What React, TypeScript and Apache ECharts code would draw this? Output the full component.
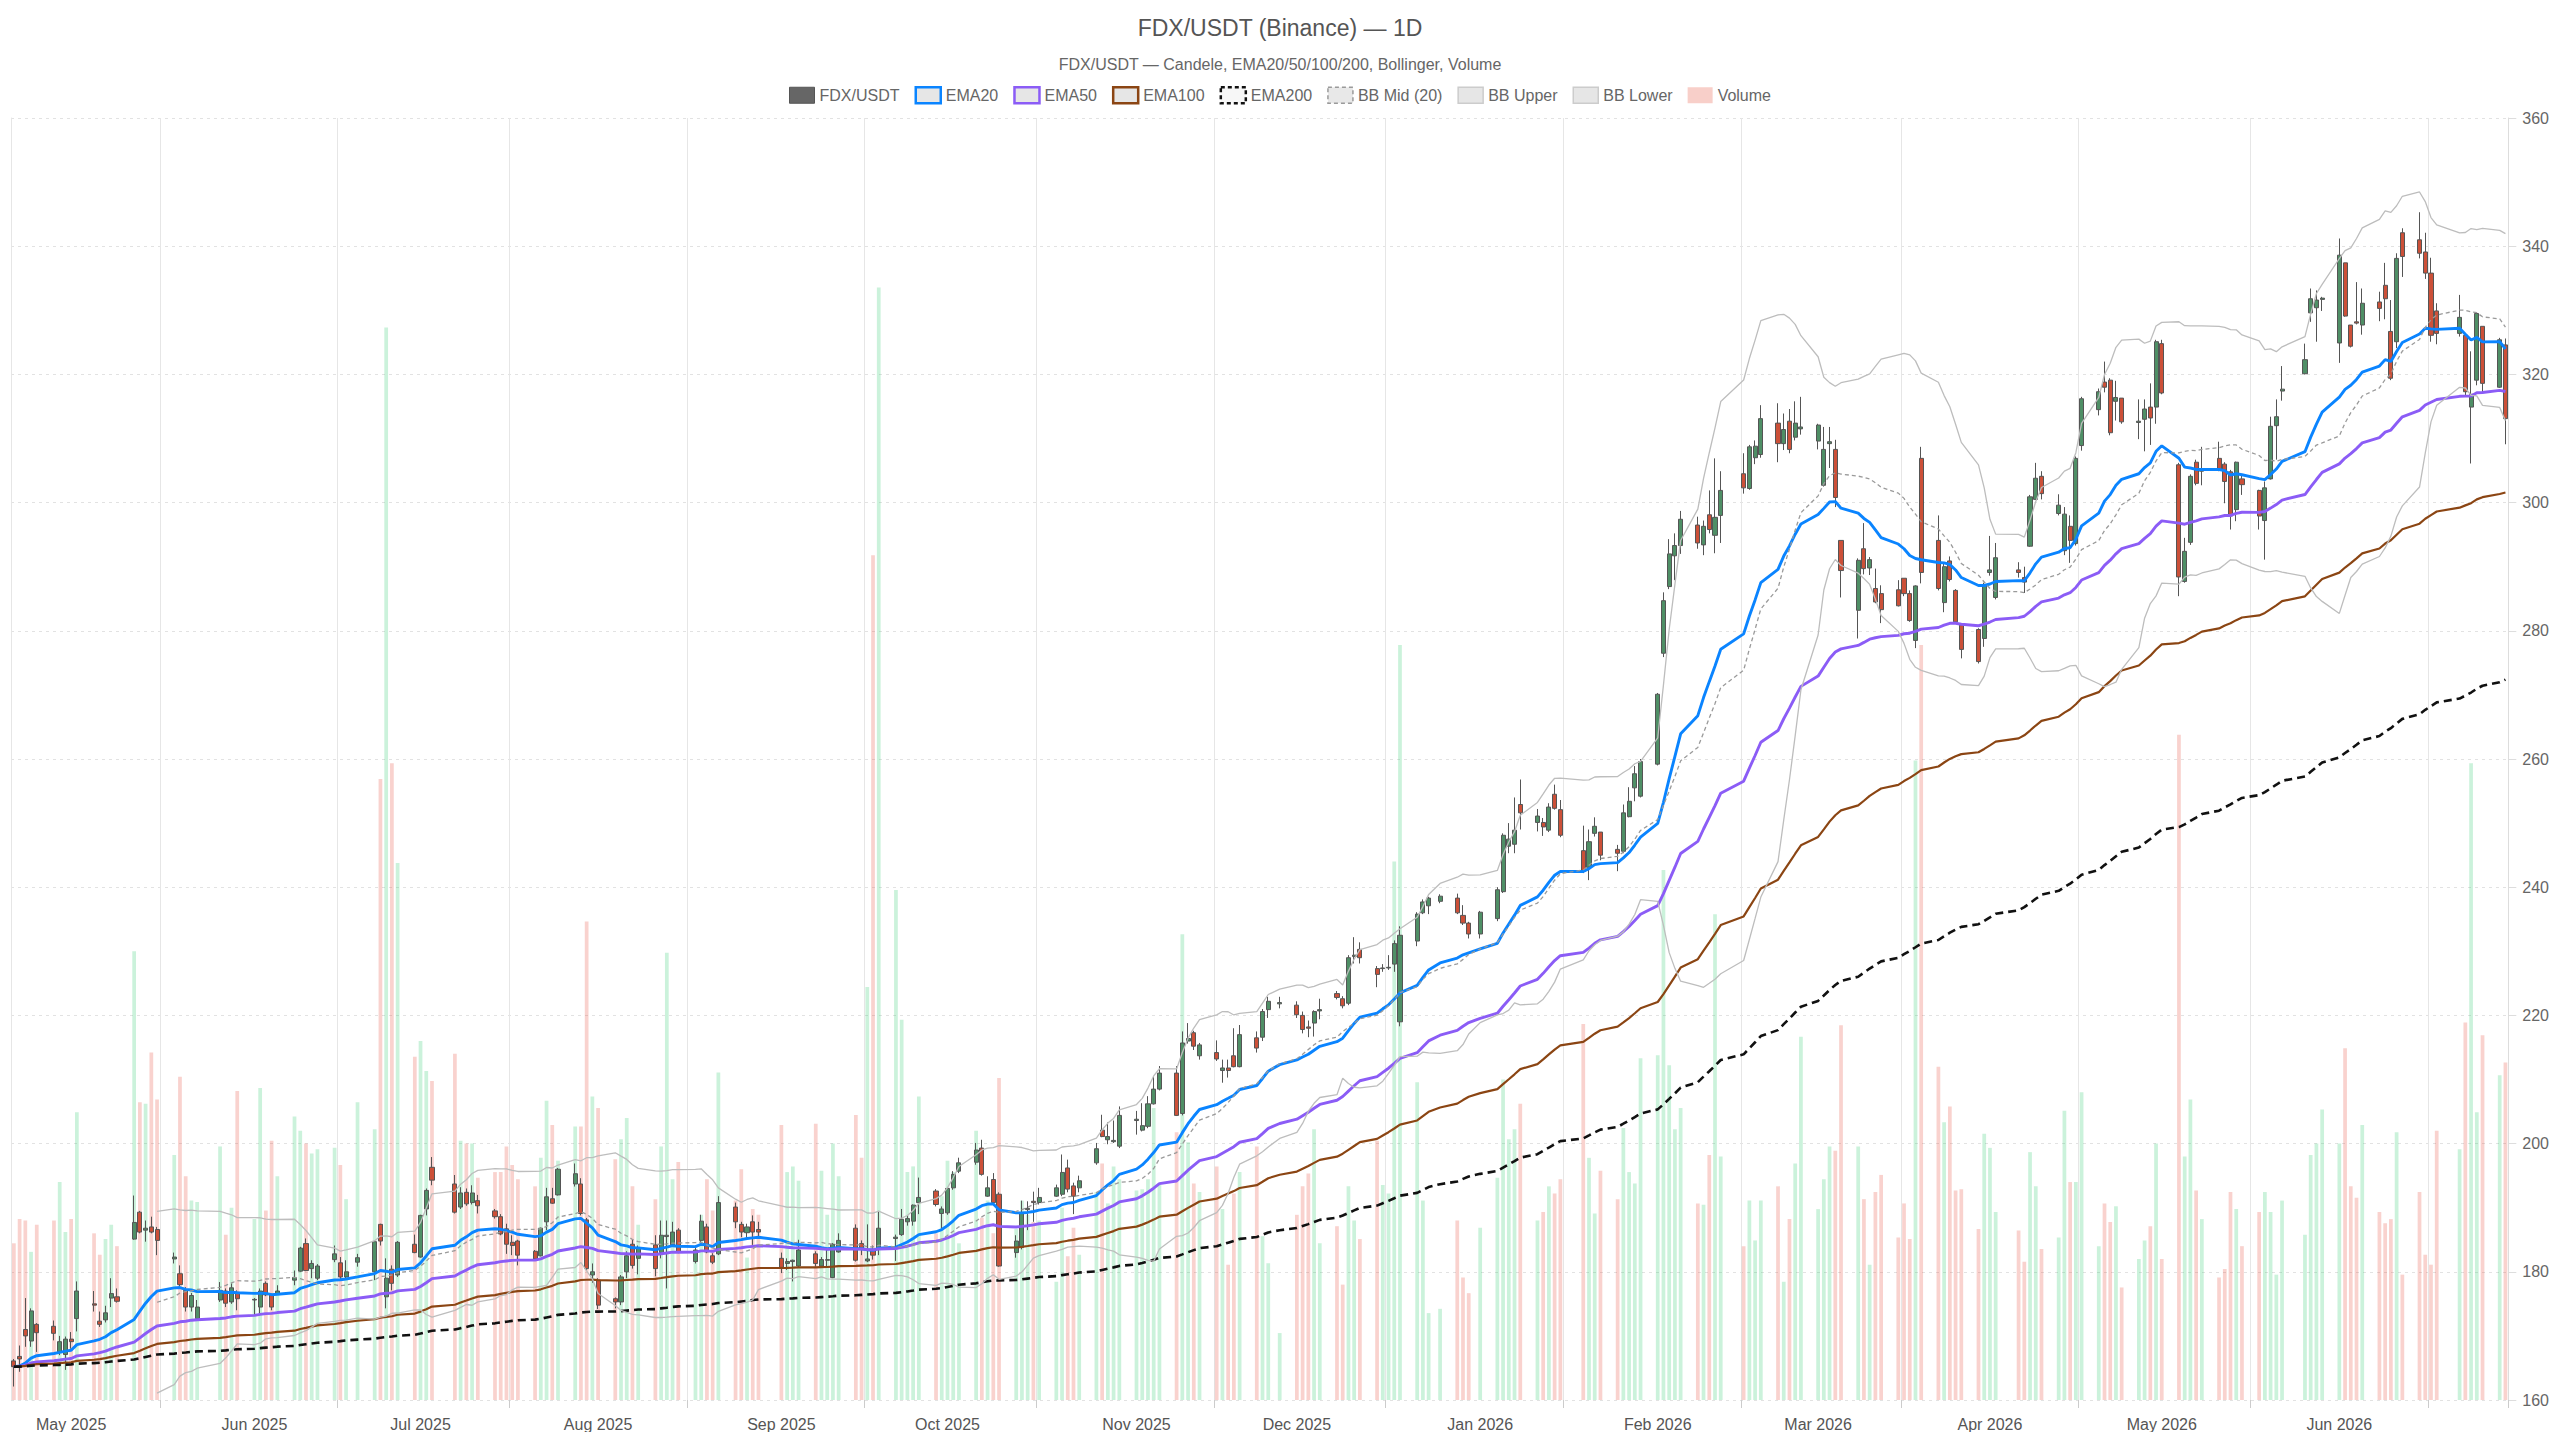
import { useEffect, useRef } from 'react';
import * as echarts from 'echarts';

const FONT = '"Liberation Sans", Arial, sans-serif';

const TITLE = 'FDX/USDT (Binance) — 1D';
const SUBTITLE = 'FDX/USDT — Candele, EMA20/50/100/200, Bollinger, Volume';

const FIRST_DAY = '2025-04-21';
const LAST_DAY = '2026-06-30';
// days without a bar (weekends are skipped as well)
const MARKET_HOLIDAYS = [
  '2025-05-26', '2025-06-19', '2025-07-04', '2025-09-01', '2025-11-27', '2025-12-25',
  '2026-01-01', '2026-01-19', '2026-02-16', '2026-04-03', '2026-05-25', '2026-06-19',
];

// one row per trading day: [open, high, low, close]
const OHLC: number[][] = [
  // Apr 21 - Apr 25
  [166.1, 166.4, 162.1, 165.2], [166.8, 168.5, 164.4, 166.4], [171.0, 175.9, 168.3, 170.0], [169.2, 174.3, 168.3, 173.9], [171.8, 172.0, 167.5, 170.5],
  // Apr 28 - May 2
  [171.5, 172.4, 169.3, 170.4], [167.5, 170.0, 167.0, 169.1], [167.1, 169.9, 164.7, 169.5], [169.5, 170.6, 168.0, 169.1], [172.7, 178.5, 170.7, 177.0],
  // May 5 - 9
  [175.0, 177.0, 173.8, 174.8], [172.3, 173.8, 171.4, 171.8], [172.5, 174.7, 172.1, 173.6], [175.9, 179.0, 174.5, 176.6], [176.1, 177.4, 175.2, 175.4],
  // May 12 - 16
  [185.1, 191.9, 185.0, 187.7], [189.3, 189.5, 186.0, 186.2], [186.5, 188.0, 184.7, 186.8], [187.0, 188.6, 186.0, 186.2], [186.6, 187.0, 182.6, 184.9],
  // May 19 - 23
  [182.0, 183.0, 181.3, 182.3], [179.7, 181.0, 177.4, 178.0], [177.1, 177.6, 173.8, 174.5], [174.5, 176.7, 173.8, 176.3], [172.7, 175.6, 172.5, 174.5],
  // May 27 - 30
  [175.6, 178.4, 175.3, 177.1], [177.0, 177.4, 174.5, 175.1], [175.3, 178.2, 175.0, 177.5], [176.8, 177.1, 174.0, 175.8],
  // Jun 2 - 6
  [175.6, 175.9, 173.2, 175.7], [174.5, 177.4, 173.5, 177.0], [178.2, 178.5, 176.2, 176.4], [176.4, 176.6, 174.0, 174.5], [176.6, 177.9, 176.4, 177.0],
  // Jun 9 - 13
  [178.7, 180.2, 177.9, 179.1], [180.1, 183.9, 180.0, 183.7], [184.4, 185.2, 180.1, 180.2], [180.5, 181.8, 179.0, 181.3], [179.0, 181.2, 178.7, 180.9],
  // Jun 16 - 20
  [181.9, 184.1, 181.5, 182.8], [181.4, 182.3, 178.7, 179.2], [179.2, 181.8, 179.0, 180.0], [181.5, 182.8, 180.8, 182.2],
  // Jun 23 - 27
  [180.0, 184.8, 178.7, 184.7], [187.4, 187.5, 184.1, 184.8], [176.1, 182.1, 174.3, 179.0], [180.4, 181.0, 177.1, 178.2], [179.5, 184.8, 179.2, 184.6],
  // Jun 30 - Jul 3
  [184.3, 185.8, 182.9, 183.0], [182.3, 188.9, 182.2, 188.8], [189.8, 193.0, 188.8, 192.7], [196.3, 197.9, 193.5, 194.3],
  // Jul 7 - 11
  [193.7, 195.1, 189.1, 189.3], [190.1, 193.2, 189.8, 192.3], [192.4, 193.0, 190.3, 190.6], [190.8, 193.5, 190.5, 192.3], [191.1, 192.0, 189.1, 190.3],
  // Jul 14 - 18
  [189.5, 189.8, 188.3, 188.6], [188.6, 189.0, 185.7, 185.9], [186.7, 187.5, 182.8, 184.3], [184.6, 185.7, 182.6, 184.1], [184.8, 185.0, 181.0, 182.6],
  // Jul 21 - 25
  [183.2, 183.4, 181.8, 182.0], [182.5, 186.9, 182.4, 186.8], [187.8, 193.1, 186.5, 191.7], [191.4, 193.1, 190.6, 190.7], [192.0, 196.2, 191.9, 196.0],
  // Jul 28 - Aug 1
  [193.7, 196.9, 193.3, 195.3], [193.7, 194.6, 188.8, 189.1], [188.1, 188.4, 180.2, 180.5], [179.5, 181.3, 178.3, 180.0], [178.7, 179.0, 174.2, 174.8],
  // Aug 4 - 8
  [175.8, 176.0, 174.3, 175.3], [175.3, 179.5, 174.8, 179.2], [180.0, 183.2, 179.0, 182.5], [184.3, 185.0, 180.5, 181.0], [182.1, 184.1, 179.6, 183.7],
  // Aug 11 - 15
  [184.2, 185.7, 179.3, 180.5], [183.0, 188.0, 182.1, 185.7], [185.5, 188.0, 177.4, 185.7], [184.2, 187.8, 184.0, 186.2], [186.5, 186.8, 182.9, 183.1],
  // Aug 18 - 22
  [181.6, 183.9, 181.3, 183.4], [184.9, 188.9, 184.4, 187.9], [187.0, 187.5, 182.9, 183.1], [182.5, 182.9, 181.2, 181.5], [182.8, 191.8, 182.6, 190.8],
  // Aug 25 - 29
  [190.1, 190.8, 186.8, 187.8], [187.4, 187.8, 185.4, 186.2], [186.1, 187.5, 185.2, 187.0], [187.8, 188.8, 184.2, 186.2], [186.6, 187.8, 185.5, 186.2],
  // Sep 2 - 5
  [182.1, 183.0, 179.8, 180.7], [181.3, 182.1, 180.3, 181.6], [181.6, 181.9, 178.5, 181.8], [180.9, 185.0, 180.7, 183.4],
  // Sep 8 - 12
  [182.8, 183.2, 180.8, 181.3], [180.9, 182.3, 180.6, 181.9], [181.8, 183.6, 180.6, 181.9], [179.1, 184.5, 179.0, 184.3], [183.1, 186.0, 183.0, 184.9],
  // Sep 15 - 19
  [186.8, 187.4, 181.6, 181.8], [184.4, 184.9, 182.6, 183.5], [181.7, 187.4, 181.5, 182.0], [183.5, 184.1, 181.9, 182.6], [183.6, 189.5, 182.6, 186.8],
  // Sep 22 - 26
  [185.2, 185.8, 181.7, 185.4], [185.8, 189.8, 185.6, 188.2], [187.8, 188.7, 187.2, 188.3], [187.9, 190.5, 187.2, 190.4], [190.8, 194.7, 189.0, 191.6],
  // Sep 29 - Oct 3
  [192.6, 192.9, 190.2, 190.5], [189.1, 190.2, 186.6, 189.8], [189.2, 193.2, 188.9, 193.0], [193.1, 195.7, 192.8, 195.2], [195.7, 197.8, 195.4, 197.0],
  // Oct 6 - 10
  [197.1, 200.1, 196.7, 199.0], [199.3, 200.6, 195.0, 195.2], [191.8, 194.9, 191.7, 193.1], [194.4, 195.4, 190.6, 190.8], [192.1, 192.4, 180.8, 180.9],
  // Oct 13 - 17
  [183.0, 185.7, 182.2, 184.8], [183.8, 191.1, 183.5, 189.1], [189.7, 191.0, 186.5, 189.9], [191.0, 192.5, 187.8, 190.8], [190.8, 193.1, 190.5, 191.6],
  // Oct 20 - 24
  [191.8, 193.6, 191.7, 193.1], [192.1, 198.3, 191.8, 195.5], [196.2, 197.5, 192.4, 192.9], [193.4, 193.9, 189.0, 191.8], [193.1, 195.0, 192.4, 194.2],
  // Oct 27 - 31
  [197.0, 200.1, 196.7, 199.2], [202.1, 204.5, 201.0, 201.1], [200.6, 203.3, 199.9, 201.1], [200.3, 203.6, 200.1, 200.5], [199.6, 205.8, 199.3, 204.4],
  // Nov 3 - 7
  [203.6, 205.1, 201.4, 203.8], [202.1, 206.3, 201.9, 202.8], [202.7, 207.4, 202.4, 206.2], [206.2, 210.4, 206.1, 208.5], [208.5, 212.1, 208.3, 211.0],
  // Nov 10 - 14
  [211.0, 212.1, 204.3, 204.4], [204.7, 217.5, 204.4, 215.7], [216.0, 218.8, 215.6, 216.4], [217.3, 217.6, 214.6, 215.2], [213.7, 215.7, 213.1, 215.4],
  // Nov 17 - 21
  [214.2, 216.1, 212.9, 213.2], [211.4, 213.1, 209.5, 211.8], [211.8, 213.1, 210.3, 211.4], [213.7, 218.0, 211.9, 212.0], [212.0, 218.5, 211.9, 217.0],
  // Nov 24 - 28
  [216.5, 217.5, 214.2, 214.9], [216.6, 221.0, 216.0, 220.6], [220.9, 222.9, 219.6, 222.2], [221.8, 222.9, 221.1, 222.0],
  // Dec 1 - 5
  [221.6, 222.2, 219.6, 220.1], [220.0, 220.6, 217.2, 217.8], [218.2, 219.2, 216.6, 218.0], [218.8, 220.8, 216.7, 220.6], [220.7, 222.6, 219.4, 220.9],
  // Dec 8 - 12
  [223.4, 223.8, 222.5, 222.8], [222.6, 223.0, 221.1, 221.5], [221.9, 229.4, 221.6, 229.0], [229.2, 232.2, 228.1, 229.4], [230.3, 231.4, 228.1, 229.0],
  // Dec 15 - 19
  [227.3, 227.7, 224.4, 226.4], [227.3, 228.0, 226.8, 227.4], [227.4, 229.4, 227.1, 227.5], [228.0, 231.7, 226.8, 231.2], [219.0, 233.9, 218.3, 232.5],
  // Dec 22 - 26
  [231.6, 236.1, 230.8, 235.8], [236.0, 238.1, 235.8, 237.7], [237.1, 238.5, 235.8, 238.3], [237.8, 238.9, 237.5, 238.6],
  // Dec 29 - Jan 2
  [238.3, 239.0, 235.8, 236.0], [235.6, 237.2, 234.1, 234.4], [234.4, 234.6, 232.0, 232.7], [232.7, 236.3, 232.0, 236.1],
  // Jan 5 - 9
  [235.1, 240.0, 234.7, 239.6], [239.3, 248.4, 239.1, 248.1], [246.4, 250.0, 245.3, 247.5], [246.7, 254.0, 245.3, 248.9], [252.9, 256.8, 249.0, 251.6],
  // Jan 12 - 16
  [250.1, 252.2, 248.7, 251.1], [250.1, 250.8, 248.0, 249.4], [248.9, 253.1, 248.6, 252.5], [254.5, 256.0, 252.1, 252.3], [252.1, 253.6, 247.8, 248.1],
  // Jan 20 - 23
  [245.7, 249.6, 242.2, 242.5], [243.1, 249.0, 241.1, 247.1], [248.4, 250.9, 247.9, 249.5], [248.6, 248.6, 244.2, 245.0],
  // Jan 26 - 30
  [245.9, 246.6, 242.5, 245.3], [245.6, 252.9, 245.3, 251.6], [251.0, 255.6, 250.9, 253.4], [255.5, 258.9, 253.4, 257.7], [254.2, 260.0, 254.0, 259.6],
  // Feb 2 - 6
  [259.2, 270.3, 259.0, 270.1], [276.5, 286.0, 275.9, 284.7], [286.9, 294.3, 286.5, 292.0], [291.7, 295.2, 287.9, 293.3], [293.3, 298.7, 292.0, 297.4],
  // Feb 9 - 13
  [296.5, 297.8, 292.8, 293.7], [293.4, 297.2, 291.8, 296.3], [298.1, 301.9, 295.2, 295.8], [294.9, 306.9, 292.1, 297.7], [298.0, 304.9, 293.7, 301.9],
  // Feb 17 - 20
  [304.5, 307.7, 301.4, 302.3], [302.2, 309.0, 302.0, 308.7], [307.0, 309.7, 306.0, 308.8], [307.5, 315.2, 307.0, 313.1],
  // Feb 23 - 27
  [312.4, 315.5, 306.3, 309.2], [309.2, 313.9, 308.2, 311.4], [312.7, 314.6, 307.7, 308.3], [310.2, 315.8, 309.7, 312.4], [311.5, 316.5, 310.6, 311.8],
  // Mar 2 - 6
  [309.6, 312.3, 308.3, 312.1], [302.7, 311.8, 302.5, 308.3], [309.2, 311.8, 305.4, 309.5], [308.3, 309.8, 299.3, 300.8], [294.1, 294.1, 285.2, 289.4],
  // Mar 9 - 13
  [283.2, 291.3, 278.8, 291.0], [292.8, 296.8, 288.8, 289.7], [289.8, 291.5, 288.7, 291.1], [286.6, 289.7, 284.3, 284.5], [285.8, 287.1, 281.2, 283.3],
  // Mar 16 - 20
  [286.4, 287.9, 283.8, 283.9], [288.2, 288.2, 285.4, 285.8], [285.8, 286.3, 281.4, 281.6], [278.5, 287.1, 277.3, 287.0], [306.9, 308.7, 287.4, 289.1],
  // Mar 23 - 27
  [294.1, 298.0, 286.3, 286.6], [284.4, 290.5, 282.9, 290.0], [290.9, 291.6, 287.7, 288.0], [286.3, 286.5, 281.1, 281.4], [280.9, 281.1, 275.7, 277.1],
  // Mar 30 - Apr 2
  [280.2, 280.4, 274.9, 275.2], [278.8, 287.5, 277.5, 287.1], [289.1, 294.8, 288.6, 289.5], [285.2, 293.7, 284.9, 291.4],
  // Apr 6 - 10
  [289.5, 290.7, 288.3, 289.1], [288.3, 290.0, 285.9, 287.6], [293.2, 301.2, 293.1, 300.9], [300.5, 306.2, 300.4, 303.8], [304.1, 304.9, 300.5, 301.4],
  // Apr 13 - 17
  [298.3, 301.3, 298.0, 299.6], [292.5, 299.3, 291.8, 298.2], [296.3, 298.0, 290.6, 294.1], [293.6, 307.2, 293.3, 306.9], [308.9, 316.5, 308.1, 316.2],
  // Apr 20 - 24
  [314.5, 317.8, 313.6, 317.3], [318.8, 322.0, 317.2, 318.0], [319.1, 319.4, 310.5, 310.9], [315.8, 319.0, 312.8, 316.4], [316.3, 316.3, 312.3, 312.6],
  // Apr 27 - May 1
  [312.5, 316.1, 309.9, 312.7], [313.0, 316.1, 308.0, 314.6], [314.9, 318.6, 309.0, 313.2], [314.9, 325.4, 312.3, 325.1], [324.8, 325.4, 316.9, 317.1],
  // May 4 - 8
  [305.9, 306.2, 285.4, 288.4], [287.7, 294.5, 287.5, 292.4], [293.8, 304.4, 293.4, 304.1], [306.3, 306.7, 302.7, 303.0], [304.9, 308.7, 302.7, 305.1],
  // May 11 - 15
  [306.9, 309.5, 304.9, 305.2], [306.0, 306.3, 299.9, 303.3], [304.8, 305.1, 295.8, 297.9], [298.9, 306.4, 297.1, 306.3], [303.7, 304.4, 301.2, 302.8],
  // May 18 - 22
  [301.9, 302.0, 295.8, 297.9], [297.2, 303.3, 291.1, 302.3], [303.7, 313.4, 303.6, 311.9], [312.0, 316.1, 306.7, 313.4], [317.4, 321.3, 315.9, 317.7],
  // May 26 - 29
  [320.1, 324.8, 320.0, 322.3], [329.6, 333.4, 328.2, 331.8], [330.4, 333.1, 325.1, 331.6], [331.7, 332.1, 329.9, 331.9],
  // Jun 1 - 5
  [324.9, 341.2, 321.8, 338.6], [337.4, 337.4, 329.0, 329.1], [327.7, 327.7, 324.2, 324.4], [328.2, 334.4, 327.8, 328.0], [327.7, 333.4, 326.2, 331.1],
  // Jun 8 - 12
  [331.3, 332.9, 328.3, 330.3], [333.9, 337.4, 328.6, 331.8], [326.7, 331.6, 319.1, 319.4], [325.1, 338.9, 324.1, 338.1], [342.1, 342.8, 335.2, 338.4],
  // Jun 15 - 18
  [341.0, 345.3, 338.1, 338.9], [339.1, 342.1, 334.9, 335.8], [335.8, 338.2, 325.1, 326.1], [329.9, 331.1, 324.7, 326.4],
  // Jun 22 - 26
  [326.4, 332.4, 325.9, 328.9], [326.1, 326.4, 316.5, 317.3], [314.9, 323.6, 306.1, 316.9], [319.1, 329.7, 318.3, 329.5], [327.5, 327.5, 317.0, 318.6],
  // Jun 29 - 30
  [318.0, 325.7, 317.9, 325.4], [324.6, 325.6, 309.1, 313.1],
];

// volume per trading day, millions (same order as OHLC)
const VOLUME_M = [
  1.10, 1.27, 1.26, 1.04, 1.23, 1.26, 1.53, 1.18, 1.27, 2.02,
  1.17, 1.02, 1.13, 1.23, 1.08, 3.15, 2.09, 2.08, 2.44, 2.11,
  1.72, 2.27, 1.57, 1.40, 1.39, 1.78, 1.16, 1.35, 2.17,
  1.27, 2.19, 1.33, 1.82, 1.57, 1.99, 1.89, 1.80, 1.73, 1.76,
  1.77, 1.65, 1.41, 2.09, 1.90, 4.36, 7.53, 4.47, 3.77,
  2.41, 2.52, 2.31, 2.24, 2.43, 1.82, 1.80, 1.80, 1.56,
  1.60, 1.60, 1.78, 1.65, 1.55, 1.50, 1.70, 2.10, 1.93, 1.68,
  1.92, 1.92, 3.36, 2.13, 2.05, 1.69, 1.83, 1.98, 1.50, 1.23,
  1.41, 1.78, 3.14, 1.55, 1.67, 1.00, 1.30, 1.55, 1.33, 2.30,
  1.40, 1.62, 1.00, 1.34, 1.30, 1.93, 1.60, 1.64, 1.54,
  1.94, 1.61, 1.30, 1.80, 1.57, 2.00, 1.70, 2.90, 5.93, 7.81,
  3.58, 2.67, 1.60, 1.64, 2.13, 1.17, 1.43, 1.68, 1.60, 1.10,
  1.89, 1.28, 1.40, 1.17, 2.26, 1.20, 1.40, 1.30, 1.25, 1.26,
  0.83, 1.35, 1.01, 1.21, 1.02, 1.46, 1.66, 1.38, 1.64, 1.55,
  1.47, 1.48, 1.55, 2.05, 1.51, 1.88, 3.27, 1.81, 1.52, 1.46,
  1.64, 1.34, 0.95, 1.45, 1.60, 1.78, 1.15, 0.96, 0.47,
  1.30, 1.50, 1.59, 1.90, 1.10, 1.22, 0.81, 1.50, 1.26, 1.13,
  1.82, 1.51, 1.45, 3.78, 5.30, 2.23, 1.40, 0.61, 0.64,
  1.26, 0.86, 0.75, 1.21, 1.56, 2.25, 1.83, 1.90, 2.08,
  1.26, 1.32, 1.50, 1.45, 1.55, 2.64, 1.70, 1.31, 1.61,
  1.41, 1.91, 1.60, 1.52, 2.40, 2.42, 3.72, 2.35, 1.90, 2.05,
  1.38, 1.37, 1.72, 3.41, 1.71, 1.08, 1.40, 1.12, 1.40,
  1.50, 0.83, 1.27, 1.66, 2.55, 1.34, 1.55, 1.78, 1.75, 2.63,
  1.78, 1.41, 0.95, 1.46, 1.58, 1.14, 1.38, 1.13, 4.49, 5.30,
  2.34, 1.95, 2.06, 1.47, 1.48, 1.20, 1.87, 1.77, 1.32,
  1.19, 0.97, 1.74, 1.50, 1.06, 1.14, 2.03, 1.53, 1.53, 2.16,
  1.08, 1.38, 1.25, 1.36, 0.79, 0.99, 1.12, 1.22, 1.80, 0.99,
  4.67, 1.71, 2.11, 1.47, 1.27, 0.86, 0.92, 1.46, 1.34, 1.08,
  1.32, 1.46, 1.32, 0.88, 1.40, 1.16, 1.72, 1.80, 2.04,
  1.80, 2.47, 1.50, 1.42, 1.93, 1.32, 1.24, 1.27, 1.88, 0.88,
  1.46, 1.02, 0.95, 1.89, 1.76, 2.65, 4.47, 2.02, 2.56,
  2.28, 2.37,
];

const PRICE_MIN = 160;
const PRICE_MAX = 360;
const PRICE_STEP = 20;
const VOLUME_AXIS_MAX = 9;

const MONTHS = ['Jan', 'Feb', 'Mar', 'Apr', 'May', 'Jun', 'Jul', 'Aug', 'Sep', 'Oct', 'Nov', 'Dec'];

const UP = '#4f8f66';
const DOWN = '#cc5038';
const WICK = '#555555';
const VOL_UP = 'rgba(46, 204, 113, 0.25)';
const VOL_DOWN = 'rgba(231, 76, 60, 0.25)';
const EMA_COLORS: Record<number, string> = { 20: '#0a84ff', 50: '#8b5cf6', 100: '#8b4513', 200: '#111111' };
const BB_EDGE = '#bdbdbd';
const BB_MID = '#9a9a9a';
const TEXT = '#555';
const MUTED = '#666';

const DAY_MS = 86400000;

function buildCalendar() {
  const days: string[] = [];
  const trading: number[] = [];
  const start = Date.parse(FIRST_DAY + 'T00:00:00Z');
  const end = Date.parse(LAST_DAY + 'T00:00:00Z');
  let i = 0;
  for (let t = start; t <= end; t += DAY_MS, i++) {
    const day = new Date(t).toISOString().slice(0, 10);
    days.push(day);
    const wd = new Date(t).getUTCDay();
    if (wd !== 0 && wd !== 6 && !MARKET_HOLIDAYS.includes(day)) trading.push(i);
  }
  return { days, trading };
}

function ema(values: number[], period: number) {
  const k = 2 / (period + 1);
  const out: number[] = [];
  values.forEach((v, i) => out.push(i === 0 ? v : v * k + out[i - 1] * (1 - k)));
  return out;
}

function bollinger(values: number[], period: number, mult: number) {
  const mid: (number | null)[] = [];
  const upper: (number | null)[] = [];
  const lower: (number | null)[] = [];
  values.forEach((_, i) => {
    if (i < period - 1) {
      mid.push(null);
      upper.push(null);
      lower.push(null);
      return;
    }
    const win = values.slice(i - period + 1, i + 1);
    const mean = win.reduce((a, b) => a + b, 0) / period;
    const sd = Math.sqrt(win.reduce((a, b) => a + (b - mean) * (b - mean), 0) / period);
    mid.push(mean);
    upper.push(mean + mult * sd);
    lower.push(mean - mult * sd);
  });
  return { mid, upper, lower };
}

function monthLabel(day: string) {
  return MONTHS[Number(day.slice(5, 7)) - 1] + ' ' + day.slice(0, 4);
}

export default function App() {
  const ref = useRef<HTMLDivElement>(null);

  useEffect(() => {
    if (!ref.current) return;
    const chart = echarts.init(ref.current, undefined, { renderer: 'svg' });

    const { days, trading } = buildCalendar();
    const n = Math.min(trading.length, OHLC.length);
    const idx = trading.slice(0, n);
    const rows = OHLC.slice(0, n);
    const closes = rows.map((r) => r[3]);

    // month label on the first trading day of each new month
    const labelSet = new Set<number>();
    for (let k = 1; k < n; k++) {
      if (days[idx[k]].slice(0, 7) !== days[idx[k - 1]].slice(0, 7)) labelSet.add(idx[k]);
    }
    const tickSet = new Set<number>();
    days.forEach((d, i) => {
      if (d.endsWith('-17')) tickSet.add(i);
    });

    const toPairs = (vals: (number | null)[]) =>
      vals
        .map((v, k) => (v == null ? null : [idx[k], Math.round(v * 100) / 100]))
        .filter((p) => p !== null);

    const candleData = rows.map((r, k) => [idx[k], r[0], r[3], r[2], r[1]]);
    const volumeData = rows.map((r, k) => ({
      value: [idx[k], VOLUME_M[k] ?? 0],
      itemStyle: { color: r[3] >= r[0] ? VOL_UP : VOL_DOWN },
    }));

    const bb = bollinger(closes, 20, 2);

    const emaSeries = [20, 50, 100, 200].map((p) => ({
      name: 'EMA' + p,
      type: 'line',
      data: toPairs(ema(closes, p)),
      showSymbol: false,
      symbol: 'none',
      z: 4,
      lineStyle:
        p === 200
          ? { color: EMA_COLORS[p], width: 2.6, type: [8, 5] }
          : { color: EMA_COLORS[p], width: p === 100 ? 2.2 : 2.9 },
      itemStyle: { color: EMA_COLORS[p] },
    }));

    const legendBox = (fill: string, border: string, width = 2, dashed = false) => ({
      color: fill,
      borderColor: border,
      borderWidth: width,
      borderType: dashed ? [4, 3] : 'solid',
    });

    chart.setOption({
      animation: false,
      textStyle: { fontFamily: FONT },
      title: {
        text: TITLE,
        subtext: SUBTITLE,
        left: 'center',
        top: 3,
        itemGap: 17,
        textStyle: { fontSize: 23, fontWeight: 'normal', color: TEXT, fontFamily: FONT },
        subtextStyle: { fontSize: 16, color: MUTED, fontFamily: FONT },
      },
      legend: {
        top: 73,
        left: 'center',
        icon: 'rect',
        itemWidth: 25,
        itemHeight: 16,
        itemGap: 15,
        textStyle: { fontSize: 16, color: MUTED, fontFamily: FONT },
        data: [
          { name: 'FDX/USDT', itemStyle: legendBox('#666666', '#555555', 1) },
          { name: 'EMA20', itemStyle: legendBox('#e6e6e6', EMA_COLORS[20], 2.5) },
          { name: 'EMA50', itemStyle: legendBox('#e6e6e6', EMA_COLORS[50], 2.5) },
          { name: 'EMA100', itemStyle: legendBox('#e6e6e6', EMA_COLORS[100], 2.5) },
          { name: 'EMA200', itemStyle: legendBox('#f7f7f7', EMA_COLORS[200], 2.5, true) },
          { name: 'BB Mid (20)', itemStyle: legendBox('#e8e8e8', BB_MID, 1.5, true) },
          { name: 'BB Upper', itemStyle: legendBox('#e6e6e6', '#cccccc', 1.5) },
          { name: 'BB Lower', itemStyle: legendBox('#e6e6e6', '#cccccc', 1.5) },
          { name: 'Volume', itemStyle: legendBox('#f8cfc9', '#f8cfc9', 0) },
        ],
      },
      grid: { left: 3, right: 39, top: 110, bottom: 31 },
      xAxis: {
        type: 'category',
        data: days,
        boundaryGap: true,
        axisLine: { show: false },
        axisTick: {
          show: true,
          interval: (i: number) => tickSet.has(i),
          length: 8,
          lineStyle: { color: '#cccccc' },
        },
        axisLabel: {
          interval: (i: number) => labelSet.has(i),
          formatter: (v: string) => monthLabel(v),
          color: TEXT,
          fontSize: 16,
          margin: 16,
          fontFamily: FONT,
        },
        splitLine: {
          show: true,
          interval: (i: number) => tickSet.has(i),
          lineStyle: { color: '#e6e6e6', width: 1 },
        },
      },
      yAxis: [
        {
          type: 'value',
          position: 'right',
          min: PRICE_MIN,
          max: PRICE_MAX,
          interval: PRICE_STEP,
          axisLine: { show: true, lineStyle: { color: '#dddddd' } },
          axisTick: { show: true, length: 8, lineStyle: { color: '#dddddd' } },
          axisLabel: { color: MUTED, fontSize: 16, margin: 14, fontFamily: FONT },
          splitLine: { show: true, lineStyle: { color: '#e2e2e2', type: [3, 4] } },
        },
        {
          type: 'value',
          position: 'left',
          min: 0,
          max: VOLUME_AXIS_MAX,
          axisLine: { show: true, lineStyle: { color: '#e6e6e6' } },
          axisTick: { show: false },
          axisLabel: { show: false },
          splitLine: { show: false },
        },
      ],
      series: [
        {
          name: 'FDX/USDT',
          type: 'candlestick',
          data: candleData,
          encode: { x: 0, y: [1, 2, 3, 4] },
          barWidth: '80%',
          z: 3,
          itemStyle: {
            color: UP,
            color0: DOWN,
            borderColor: WICK,
            borderColor0: WICK,
            borderWidth: 1,
          },
        },
        ...emaSeries,
        {
          name: 'BB Mid (20)',
          type: 'line',
          data: toPairs(bb.mid),
          symbol: 'none',
          z: 4,
          lineStyle: { color: BB_MID, width: 1.3, type: [4, 3] },
          itemStyle: { color: BB_MID },
        },
        {
          name: 'BB Upper',
          type: 'line',
          data: toPairs(bb.upper),
          symbol: 'none',
          z: 4,
          lineStyle: { color: BB_EDGE, width: 1.3 },
          itemStyle: { color: BB_EDGE },
        },
        {
          name: 'BB Lower',
          type: 'line',
          data: toPairs(bb.lower),
          symbol: 'none',
          z: 4,
          lineStyle: { color: BB_EDGE, width: 1.3 },
          itemStyle: { color: BB_EDGE },
        },
        {
          name: 'Volume',
          type: 'bar',
          yAxisIndex: 1,
          data: volumeData,
          barWidth: '65%',
          z: 1,
          itemStyle: { color: '#f8cfc9' },
        },
      ],
    });

    return () => {
      chart.dispose();
    };
  }, []);

  return <div ref={ref} style={{ width: '100%', height: 1424 }} />;
}
